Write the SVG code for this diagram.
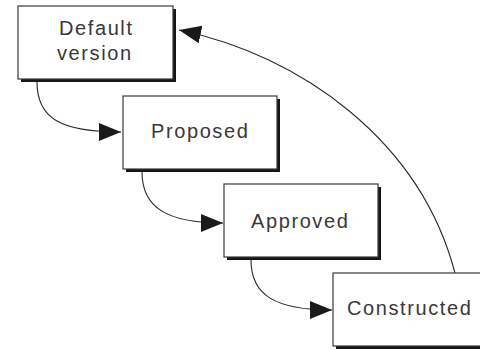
<svg xmlns="http://www.w3.org/2000/svg" width="480" height="350" viewBox="0 0 480 350">
<style>
.shadow{fill:#161616}
.box{fill:#fff;stroke:#3a3a3a;stroke-width:1.2}
.lbl{font-family:"Liberation Sans",Arial,sans-serif;font-size:20px;letter-spacing:1.6px;fill:#383838}
.edge{fill:none;stroke:#2a2a2a;stroke-width:1.1}
</style>
<defs>
<marker id="arr" markerUnits="userSpaceOnUse" markerWidth="24" markerHeight="20" refX="22" refY="9" orient="auto">
<path d="M0,0 L22,9 L0,18 Z" fill="#1a1a1a"/>
</marker>
</defs>
<rect width="480" height="350" fill="#fff"/>
<g id="connectors">
<path class="edge" d="M37,82 C37,118 60,132 121,132" marker-end="url(#arr)"/>
<path class="edge" d="M142,172 C142,207 166,223 223,223" marker-end="url(#arr)"/>
<path class="edge" d="M251,260 C251,295 275,310 332,310" marker-end="url(#arr)"/>
<path class="edge" d="M455,273 C420,140 300,55 179,30" marker-end="url(#arr)"/>
</g>
<g id="default-version">
<rect class="shadow" x="21" y="9" width="155" height="73"/>
<rect class="box" x="18" y="6" width="155" height="73"/>
<text class="lbl" x="59" y="35">Default</text>
<text class="lbl" x="57" y="60">version</text>
</g>
<g id="proposed">
<rect class="shadow" x="126" y="99" width="154" height="73"/>
<rect class="box" x="123" y="96" width="154" height="73"/>
<text class="lbl" x="151" y="138">Proposed</text>
</g>
<g id="approved">
<rect class="shadow" x="227" y="187" width="154" height="73"/>
<rect class="box" x="224" y="184" width="154" height="73"/>
<text class="lbl" x="251" y="228">Approved</text>
</g>
<g id="constructed">
<rect class="shadow" x="336" y="276" width="160" height="73"/>
<rect class="box" x="333" y="273" width="160" height="73"/>
<text class="lbl" x="347" y="315">Constructed</text>
</g>
</svg>
